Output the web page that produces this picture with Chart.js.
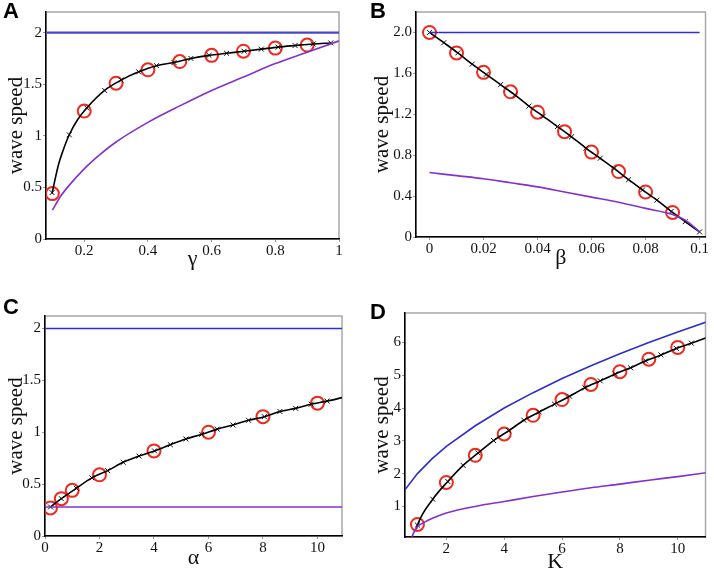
<!DOCTYPE html>
<html>
<head>
<meta charset="utf-8">
<script src="https://cdn.jsdelivr.net/npm/chart.js@4/dist/chart.umd.min.js"></script>
<style>
  body { margin: 0; background: #fff; }
  #wrap { position: relative; width: 714px; height: 568px; }
  canvas { position: absolute; }
  .lab { position: absolute; font: bold 22px "Liberation Sans", Arial, sans-serif; line-height: 1; color: #000; }
</style>
</head>
<body>
<div id="wrap">
  <canvas id="cA" width="357" height="284" style="left:0;top:0"></canvas>
  <canvas id="cB" width="357" height="284" style="left:357px;top:0"></canvas>
  <canvas id="cC" width="357" height="284" style="left:0;top:284px"></canvas>
  <canvas id="cD" width="357" height="284" style="left:357px;top:284px"></canvas>
  <div class="lab" style="left:3px;top:0">A</div>
  <div class="lab" style="left:370px;top:0">B</div>
  <div class="lab" style="left:3px;top:296px">C</div>
  <div class="lab" style="left:370px;top:301px">D</div>
</div>
<script>
// ---- panel A (gamma) ----
const aGamma = [0.1, 0.2, 0.3, 0.4, 0.5, 0.6, 0.7, 0.8, 0.9];
const aCircle = [0.44, 1.24, 1.51, 1.64, 1.72, 1.78, 1.82, 1.85, 1.88];
const aCrossX = [0.099, 0.153, 0.208, 0.264, 0.316, 0.371, 0.427, 0.482, 0.535, 0.592, 0.647, 0.702, 0.756, 0.809, 0.862, 0.919, 0.974];
const aCrossY = [0.45, 1.01, 1.27, 1.44, 1.54, 1.62, 1.68, 1.71, 1.75, 1.78, 1.80, 1.82, 1.84, 1.86, 1.875, 1.89, 1.90];
const aLineX = [0.099, 0.11, 0.12, 0.135, 0.153, 0.18, 0.208, 0.264, 0.316, 0.371, 0.427, 0.482, 0.535, 0.592, 0.647, 0.702, 0.756, 0.809, 0.862, 0.919, 0.974];
const aLineY = [0.44, 0.60, 0.73, 0.87, 1.01, 1.16, 1.27, 1.44, 1.54, 1.62, 1.68, 1.71, 1.75, 1.78, 1.80, 1.82, 1.84, 1.86, 1.875, 1.89, 1.90];
const aBlueX = [0.08, 1];
const aBlueY = [2, 2];
const aPurpX = [0.1, 0.125, 0.15, 0.2, 0.25, 0.3, 0.4, 0.5, 0.6, 0.7, 0.8, 0.9, 1.0];
const aPurpY = [0.28, 0.41, 0.51, 0.68, 0.82, 0.94, 1.13, 1.29, 1.44, 1.57, 1.70, 1.81, 1.92];
const aXTicks = [0.2, 0.4, 0.6, 0.8, 1];
const aXLabels = ['0.2', '0.4', '0.6', '0.8', '1'];
const aYTicks = [0, 0.5, 1, 1.5, 2];
const aYLabels = ['0', '0.5', '1', '1.5', '2'];

// ---- panel B (beta) ----
const bBeta = [0, 0.01, 0.02, 0.03, 0.04, 0.05, 0.06, 0.07, 0.08, 0.09];
const bCircle = [2.0, 1.80, 1.61, 1.42, 1.22, 1.03, 0.83, 0.64, 0.44, 0.24];
const bCrossX = [0, 0.0053, 0.0105, 0.0158, 0.021, 0.0263, 0.0316, 0.0368, 0.0421, 0.0474, 0.0526, 0.0579, 0.0632, 0.0684, 0.0737, 0.0789, 0.0842, 0.0895, 0.0947, 0.1];
const bCrossY = [2.0, 1.90, 1.80, 1.69, 1.59, 1.49, 1.39, 1.28, 1.18, 1.08, 0.98, 0.87, 0.77, 0.67, 0.56, 0.46, 0.36, 0.25, 0.15, 0.05];
const bBlueX = [0, 0.1];
const bBlueY = [2, 2];
const bPurpX = [0, 0.01, 0.02, 0.03, 0.04, 0.05, 0.06, 0.07, 0.08, 0.09, 0.095, 0.1];
const bPurpY = [0.63, 0.60, 0.57, 0.53, 0.49, 0.44, 0.39, 0.34, 0.28, 0.22, 0.16, 0.05];
const bXTicks = [0, 0.02, 0.04, 0.06, 0.08, 0.1];
const bXLabels = ['0', '0.02', '0.04', '0.06', '0.08', '0.1'];
const bYTicks = [0, 0.4, 0.8, 1.2, 1.6, 2.0];
const bYLabels = ['0', '0.4', '0.8', '1.2', '1.6', '2.0'];

// ---- panel C (alpha) ----
const cAlpha = [0.2, 0.6, 1, 2, 4, 6, 8, 10];
const cCircle = [0.27, 0.36, 0.44, 0.59, 0.82, 1.0, 1.15, 1.28];
const cCrossX = [0.2, 0.6, 1.15, 1.72, 2.3, 2.87, 3.45, 4.02, 4.6, 5.17, 5.75, 6.32, 6.9, 7.47, 8.05, 8.62, 9.2, 9.77, 10.35];
const cCrossY = [0.28, 0.36, 0.46, 0.56, 0.63, 0.71, 0.77, 0.82, 0.88, 0.935, 0.98, 1.03, 1.07, 1.115, 1.15, 1.20, 1.23, 1.27, 1.30];
const cLineX = cCrossX.concat([11]);
const cLineY = cCrossY.concat([1.34]);
const cBlueX = [0, 11];
const cBlueY = [2, 2];
const cPurpX = [0, 11];
const cPurpY = [0.28, 0.28];
const cXTicks = [0, 2, 4, 6, 8, 10];
const cXLabels = ['0', '2', '4', '6', '8', '10'];
const cYTicks = [0, 0.5, 1, 1.5, 2];
const cYLabels = ['0', '0.5', '1', '1.5', '2'];

// ---- panel D (K) ----
const dK = [1, 2, 3, 4, 5, 6, 7, 8, 9, 10];
const dCircle = [0.45, 1.73, 2.56, 3.21, 3.78, 4.26, 4.72, 5.11, 5.49, 5.85];
const dCrossX = [1, 1.53, 2.05, 2.58, 3.1, 3.63, 4.16, 4.68, 5.21, 5.74, 6.26, 6.79, 7.32, 7.84, 8.37, 8.89, 9.42, 9.95, 10.47];
const dCrossY = [0.43, 1.22, 1.76, 2.25, 2.63, 3.01, 3.31, 3.63, 3.88, 4.12, 4.36, 4.62, 4.83, 5.04, 5.23, 5.44, 5.62, 5.82, 5.98];
const dLineX = [0.96].concat(dCrossX, [11]);
const dLineY = [0.3].concat(dCrossY, [6.15]);
const dBlueX = [0.58, 1, 1.5, 2, 3, 4, 5, 6, 7, 8, 9, 10, 11];
const dBlueY = [1.52, 2.0, 2.45, 2.83, 3.46, 4.0, 4.47, 4.9, 5.29, 5.66, 6.0, 6.32, 6.63];
const dPurpX = [0.81, 0.9, 1, 1.25, 1.5, 2, 3, 4, 5, 6, 7, 8, 9, 10, 11];
const dPurpY = [0.07, 0.25, 0.38, 0.52, 0.63, 0.80, 1.0, 1.15, 1.30, 1.44, 1.57, 1.68, 1.80, 1.91, 2.03];
const dXTicks = [2, 4, 6, 8, 10];
const dXLabels = ['2', '4', '6', '8', '10'];
const dYTicks = [1, 2, 3, 4, 5, 6];
const dYLabels = ['1', '2', '3', '4', '5', '6'];

function pts(xs, ys) {
    return xs.map((x, i) => ({ x: x, y: ys[i] }));
}

// gray box round the plot area; left/bottom axes are drawn black on top
const framePlugin = {
    id: 'frame',
    beforeDraw(chart) {
        const a = chart.chartArea;
        const ctx = chart.ctx;
        ctx.save();
        ctx.strokeStyle = '#a8a8a8';
        ctx.lineWidth = 1.5;
        ctx.strokeRect(a.left, a.top, a.right - a.left, a.bottom - a.top);
        ctx.restore();
    }
};

function panel(id, p) {
    const serif = '"Liberation Serif", "Times New Roman", serif';
    new Chart(document.getElementById(id), {
        type: 'scatter',
        data: {
            datasets: [
                { data: pts(p.blueX, p.blueY), showLine: true, borderColor: p.blueC || '#2d2dd2', borderWidth: p.blueW || 1.6, pointRadius: 0 },
                { data: pts(p.purpX, p.purpY), showLine: true, borderColor: '#8430cc', borderWidth: 1.6, pointRadius: 0, cubicInterpolationMode: 'monotone' },
                { data: pts(p.lineX, p.lineY), showLine: true, borderColor: '#000', borderWidth: 1.6, pointRadius: 0, cubicInterpolationMode: 'monotone' },
                { data: pts(p.crossX, p.crossY), showLine: false, pointStyle: 'crossRot', pointRadius: 3.5, borderColor: '#111', borderWidth: 1 },
                { data: pts(p.circX, p.circY), showLine: false, pointStyle: 'circle', pointRadius: 6.5, borderColor: '#ee2a1e', backgroundColor: 'rgba(0,0,0,0)', borderWidth: 2 }
            ]
        },
        options: {
            responsive: false,
            animation: false,
            devicePixelRatio: 1,
            layout: { padding: { left: 0, top: p.padT, right: p.padR, bottom: 0 } },
            plugins: { legend: { display: false }, tooltip: { enabled: false } },
            scales: {
                x: {
                    type: 'linear', min: p.xMin, max: p.xMax,
                    afterFit: s => { s.height = p.xh; },
                    afterBuildTicks: s => { s.ticks = p.xTicks.map(v => ({ value: v })); },
                    border: { color: '#000', width: 1.5 },
                    grid: { display: true, drawOnChartArea: false, tickLength: 3, color: '#999' },
                    ticks: { padding: 0, maxRotation: 0, color: '#111', font: { family: serif, size: 15 },
                             callback: (v, i) => p.xLabels[i] },
                    title: { display: true, text: p.xTitle, color: '#111', font: { family: serif, size: 22, lineHeight: 1 },
                             padding: { top: 0, bottom: p.xtPad } }
                },
                y: {
                    type: 'linear', min: p.yMin, max: p.yMax,
                    afterFit: s => { s.width = p.yw; },
                    afterBuildTicks: s => { s.ticks = p.yTicks.map(v => ({ value: v })); },
                    border: { color: '#000', width: 1.5 },
                    grid: { display: true, drawOnChartArea: false, tickLength: 3, color: '#999' },
                    ticks: { padding: 1, color: '#111', font: { family: serif, size: 15 },
                             callback: (v, i) => p.yLabels[i] },
                    title: { display: true, text: 'wave speed', color: '#111', font: { family: serif, size: 21, lineHeight: 1 },
                             padding: { top: p.ytPad, bottom: 0 } }
                }
            }
        },
        plugins: [framePlugin]
    });
}

panel('cA', {
    xMin: 0.08, xMax: 1, yMin: 0, yMax: 2.2, xTicks: aXTicks, xLabels: aXLabels, yTicks: aYTicks, yLabels: aYLabels,
    xTitle: 'γ', yw: 46, xh: 45, padT: 12, padR: 18, xtPad: 14, ytPad: 6, blueW: 2.4, blueC: '#4646cc',
    blueX: aBlueX, blueY: aBlueY, purpX: aPurpX, purpY: aPurpY, lineX: aLineX, lineY: aLineY,
    crossX: aCrossX, crossY: aCrossY, circX: aGamma, circY: aCircle
});
panel('cB', {
    xMin: -0.005, xMax: 0.1022, yMin: 0, yMax: 2.2, xTicks: bXTicks, xLabels: bXLabels, yTicks: bYTicks, yLabels: bYLabels,
    xTitle: 'β', yw: 59, xh: 47, padT: 12, padR: 4, xtPad: 14.5, ytPad: 15,
    blueX: bBlueX, blueY: bBlueY, purpX: bPurpX, purpY: bPurpY, lineX: bCrossX, lineY: bCrossY,
    crossX: bCrossX, crossY: bCrossY, circX: bBeta, circY: bCircle
});
panel('cC', {
    xMin: 0, xMax: 10.9, yMin: 0, yMax: 2.12, xTicks: cXTicks, xLabels: cXLabels, yTicks: cYTicks, yLabels: cYLabels,
    xTitle: 'α', yw: 45, xh: 32, padT: 32, padR: 15, xtPad: -1, ytPad: 6,
    blueX: cBlueX, blueY: cBlueY, purpX: cPurpX, purpY: cPurpY, lineX: cLineX, lineY: cLineY,
    crossX: cCrossX, crossY: cCrossY, circX: cAlpha, circY: cCircle
});
panel('cD', {
    xMin: 0.57, xMax: 10.96, yMin: 0.067, yMax: 6.9, xTicks: dXTicks, xLabels: dXLabels, yTicks: dYTicks, yLabels: dYLabels,
    xTitle: 'K', yw: 48, xh: 31, padT: 29, padR: 3, xtPad: -5, ytPad: 15,
    blueX: dBlueX, blueY: dBlueY, purpX: dPurpX, purpY: dPurpY, lineX: dLineX, lineY: dLineY,
    crossX: dCrossX, crossY: dCrossY, circX: dK, circY: dCircle
});
</script>
</body>
</html>
